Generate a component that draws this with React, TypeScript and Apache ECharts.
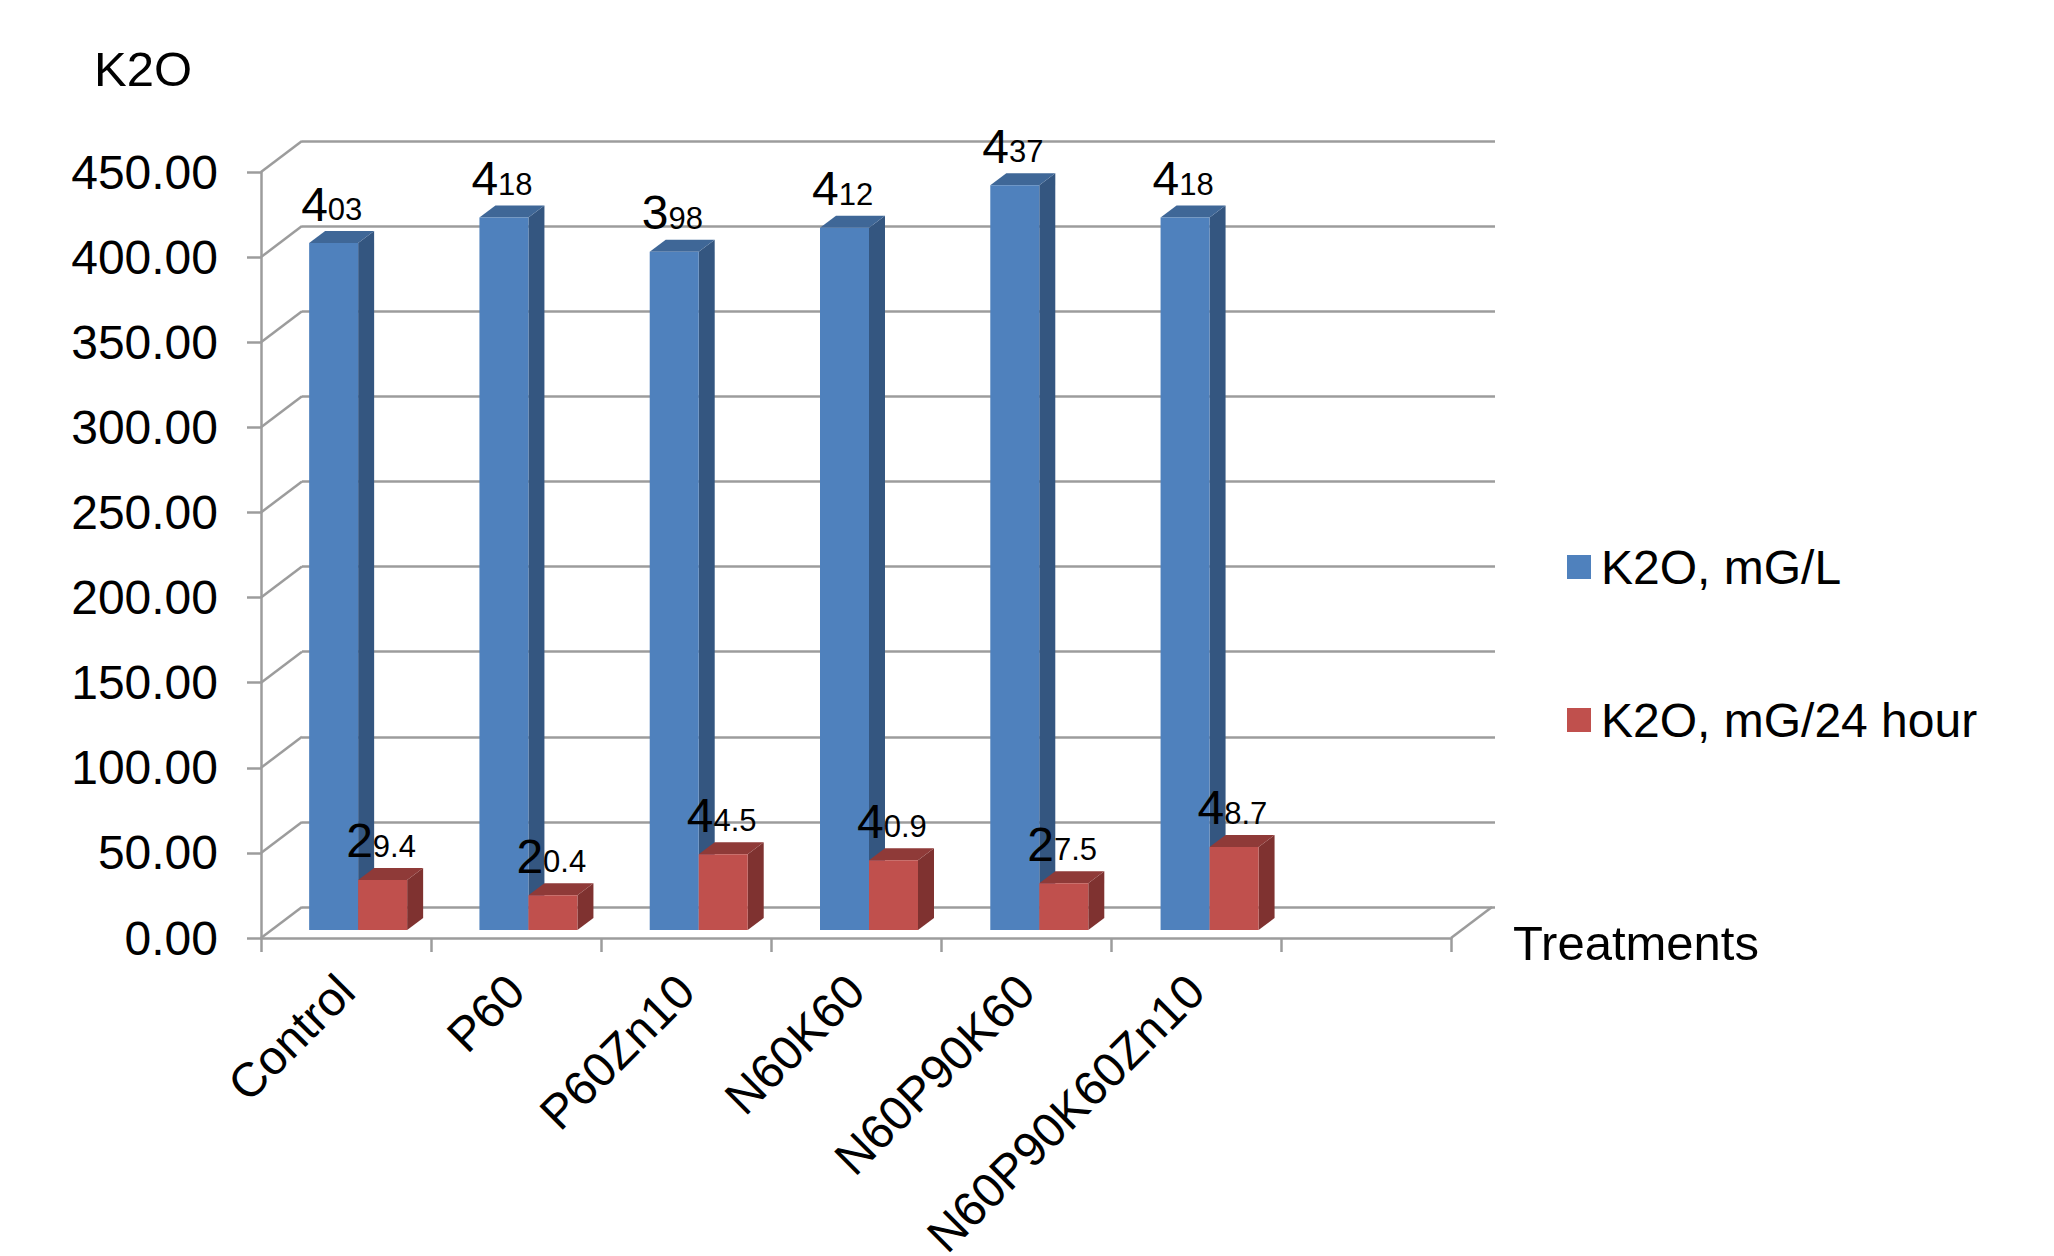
import React, { useEffect, useRef } from "react";
import * as echarts from "echarts";

const categories = ["Control", "P60", "P60Zn10", "N60K60", "N60P90K60", "N60P90K60Zn10", ""];
const concentration = [403, 418, 398, 412, 437, 418];
const dailyAmount = [29.4, 20.4, 44.5, 40.9, 27.5, 48.7];
const tickValues = [0, 50, 100, 150, 200, 250, 300, 350, 400, 450];
const seriesNames = ["K2O, mG/L", "K2O, mG/24 hour"];

const FONT = "'Liberation Sans', Arial, sans-serif";
const AXIS_GREY = "#9c9c9c";
const AXIS_WIDTH = 2.5;
const WALL_DX = 41;
const WALL_DY = -31;
const BAR_WIDTH = 49;
const BAR_DX = 16;
const BAR_DY = -12;

const blueFaces = { front: "#4f81bd", side: "#345680", top: "#3f6797" };
const redFaces = { front: "#c0504d", side: "#7f3230", top: "#8f3a38" };

// Oblique box with its value label: the first digit is set larger than the rest.
function boxRenderer(faces: typeof blueFaces, offset: number, labelDx: number) {
  return (_params: any, api: any) => {
    const top = api.coord([api.value(0), api.value(1)]);
    const base = api.coord([api.value(0), 0]);
    const x0 = top[0] + offset;
    const x1 = x0 + BAR_WIDTH;
    const text = String(api.value(1));
    return {
      type: "group",
      children: [
        {
          type: "polygon",
          shape: { points: [[x1, top[1]], [x1 + BAR_DX, top[1] + BAR_DY], [x1 + BAR_DX, base[1] + BAR_DY], [x1, base[1]]] },
          style: { fill: faces.side },
        },
        {
          type: "polygon",
          shape: { points: [[x0, top[1]], [x0 + BAR_DX, top[1] + BAR_DY], [x1 + BAR_DX, top[1] + BAR_DY], [x1, top[1]]] },
          style: { fill: faces.top },
        },
        { type: "rect", shape: { x: x0, y: top[1], width: BAR_WIDTH, height: base[1] - top[1] }, style: { fill: faces.front } },
        {
          type: "text",
          z2: 50,
          style: {
            x: x0 + labelDx,
            y: top[1] - 15,
            text: `{big|${text[0]}}{small|${text.slice(1)}}`,
            verticalAlign: "bottom",
            align: "left",
            rich: {
              big: { fontSize: 48, fontFamily: FONT, fill: "#000", verticalAlign: "bottom" },
              small: { fontSize: 31, fontFamily: FONT, fill: "#000", verticalAlign: "bottom", padding: [0, 0, 3, 0] },
            },
          },
        },
      ],
    };
  };
}

// Receding edges of the side wall and the floor, anchored to the front axes.
function edgeRenderer(side: -1 | 1) {
  return (_params: any, api: any) => {
    const p = api.coord([api.value(0), api.value(1)]);
    const x = p[0] + (side * api.size([1, 0])[0]) / 2;
    return {
      type: "line",
      shape: { x1: x, y1: p[1], x2: x + WALL_DX, y2: p[1] + WALL_DY },
      style: { stroke: AXIS_GREY, lineWidth: AXIS_WIDTH },
    };
  };
}

export default function App() {
  const ref = useRef<HTMLDivElement>(null);

  useEffect(() => {
    const chart = echarts.init(ref.current!, undefined, { renderer: "svg" });
    const labelStyle = { color: "#000", fontFamily: FONT, fontSize: 48 };
    const axisTitleStyle = { ...labelStyle, fontSize: 49, fontWeight: "normal" };
    const axisStroke = { color: AXIS_GREY, width: AXIS_WIDTH };
    const hiddenX = (gridIndex: number) => ({ type: "category" as const, gridIndex, data: categories, show: false });
    const hiddenY = (gridIndex: number) => ({ type: "value" as const, gridIndex, min: 0, max: 450, interval: 50, show: false, splitLine: { show: false } });

    chart.setOption({
      animation: false,
      backgroundColor: "#fff",
      grid: [
        { left: 261, top: 172, width: 1190, height: 766, outerBoundsMode: "none" },
        { left: 273, top: 163, width: 1192, height: 767, outerBoundsMode: "none" },
        { left: 302, top: 141, width: 1193, height: 766, outerBoundsMode: "none" },
      ],
      xAxis: [
        {
          type: "category",
          gridIndex: 0,
          data: categories,
          axisLine: { lineStyle: axisStroke },
          axisTick: { show: true, length: 14, alignWithLabel: false, lineStyle: axisStroke },
          axisLabel: { ...labelStyle, rotate: 45, interval: 0, margin: 45, hideOverlap: false },
          splitLine: { show: false },
        },
        hiddenX(1),
        hiddenX(2),
      ],
      yAxis: [
        {
          type: "value",
          gridIndex: 0,
          min: 0,
          max: 450,
          interval: 50,
          axisLine: { show: true, lineStyle: axisStroke },
          axisTick: { show: true, length: 14, lineStyle: axisStroke },
          axisLabel: { ...labelStyle, margin: 43, formatter: (v: number) => v.toFixed(2) },
          splitLine: { show: false },
        },
        hiddenY(1),
        {
          type: "value",
          gridIndex: 2,
          min: 0,
          max: 450,
          interval: 50,
          axisLine: { show: false },
          axisTick: { show: false },
          axisLabel: { show: false },
          splitLine: { show: true, lineStyle: { ...axisStroke, type: "solid" } },
        },
      ],
      title: [
        { text: "K2O", left: 89, top: 39, textStyle: axisTitleStyle },
        { text: "Treatments", left: 1508, top: 913, textStyle: axisTitleStyle },
      ],
      legend: {
        data: seriesNames.map((name) => ({ name, icon: "rect" })),
        orient: "vertical",
        left: 1562,
        top: 538,
        itemWidth: 24,
        itemHeight: 24,
        itemGap: 105,
        textStyle: { ...labelStyle, padding: [0, 0, 0, 5] },
      },
      series: [
        {
          type: "custom",
          xAxisIndex: 0,
          yAxisIndex: 0,
          silent: true,
          data: tickValues.map((v) => [0, v]),
          encode: { x: 0, y: 1 },
          clip: false,
          renderItem: edgeRenderer(-1),
        },
        {
          type: "custom",
          xAxisIndex: 0,
          yAxisIndex: 0,
          silent: true,
          data: [[categories.length - 1, 0]],
          encode: { x: 0, y: 1 },
          clip: false,
          renderItem: edgeRenderer(1),
        },
        {
          type: "custom",
          name: seriesNames[0],
          xAxisIndex: 1,
          yAxisIndex: 1,
          itemStyle: { color: blueFaces.front },
          data: concentration.map((v, i) => [i, v]),
          encode: { x: 0, y: 1 },
          clip: false,
          renderItem: boxRenderer(blueFaces, -BAR_WIDTH, -8),
        },
        {
          type: "custom",
          name: seriesNames[1],
          xAxisIndex: 1,
          yAxisIndex: 1,
          itemStyle: { color: redFaces.front },
          data: dailyAmount.map((v, i) => [i, v]),
          encode: { x: 0, y: 1 },
          clip: false,
          renderItem: boxRenderer(redFaces, 0, -12),
        },
      ],
    });

    return () => chart.dispose();
  }, []);

  return <div ref={ref} style={{ position: "fixed", left: 0, top: 0, width: 2054, height: 1256, background: "#fff" }} />;
}
